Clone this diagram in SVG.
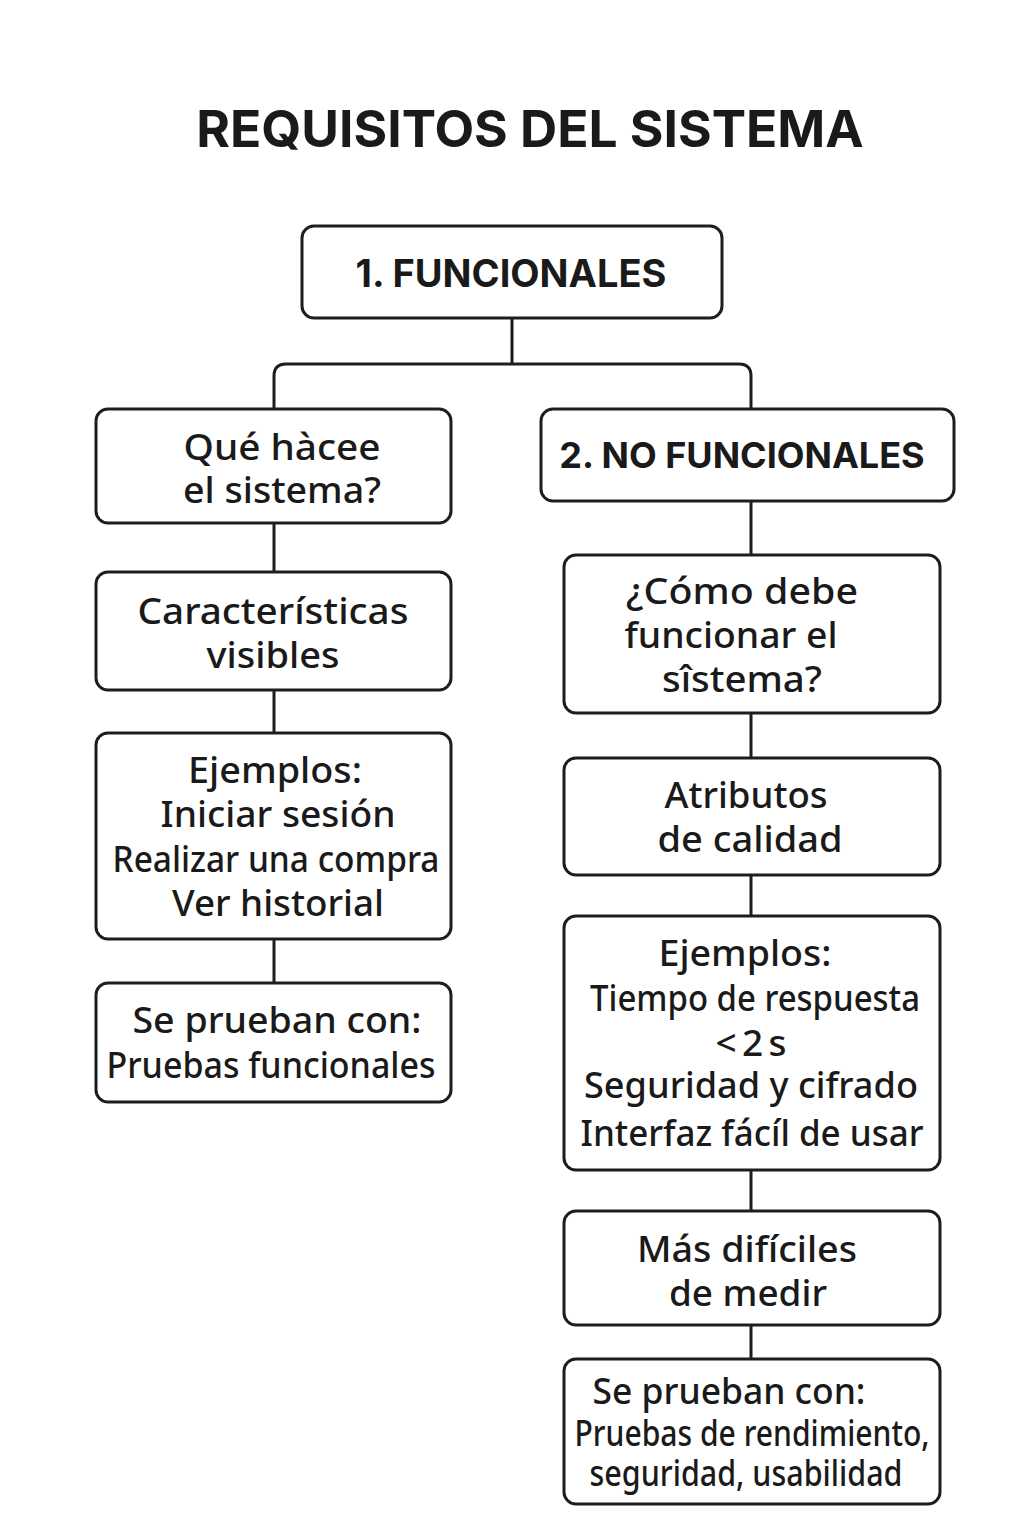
<svg xmlns="http://www.w3.org/2000/svg" width="1024" height="1536" viewBox="0 0 1024 1536">
<style>
.box{fill:#fff;stroke:#1b1e21;stroke-width:3;}
.t{font-family:"Noto Sans","Open Sans",sans-serif;font-size:37px;font-weight:500;fill:#1a1a1a;text-anchor:middle;}
.b{font-family:Inter,"Liberation Sans",sans-serif;font-weight:700;fill:#1a1a1a;text-anchor:middle;}
.c{fill:none;stroke:#1b1e21;stroke-width:3;}
</style>
<rect width="1024" height="1536" fill="#fff"/>
<text class="b" x="530" y="147" font-size="51.5">REQUISITOS DEL SISTEMA</text>
<g id="connectors">
<path class="c" d="M512 318 V364 M274 408 V376 Q274 364 286 364 H739 Q751 364 751 376 V408"/>
<path class="c" d="M274 523 V572 M274 690 V733 M274 939 V983"/>
<path class="c" d="M751 501 V555 M751 713 V758 M751 875 V916 M751 1170 V1211 M751 1325 V1359"/>
</g>
<g id="n-funcionales"><rect class="box" x="302" y="226" width="420" height="92" rx="12"/><text class="b" x="511" y="287" font-size="38">1. FUNCIONALES</text></g>
<g id="n-que"><rect class="box" x="96" y="409" width="355" height="114" rx="12"/><text class="t" x="282" y="460" textLength="197" lengthAdjust="spacingAndGlyphs">Qué hàcee</text><text class="t" x="282" y="503" textLength="198" lengthAdjust="spacingAndGlyphs">el sistema?</text></g>
<g id="n-caract"><rect class="box" x="96" y="572" width="355" height="118" rx="12"/><text class="t" x="273" y="624" textLength="271" lengthAdjust="spacingAndGlyphs">Características</text><text class="t" x="273" y="668" textLength="133" lengthAdjust="spacingAndGlyphs">visibles</text></g>
<g id="n-ej1"><rect class="box" x="96" y="733" width="355" height="206" rx="12"/><text class="t" x="275" y="783" textLength="174" lengthAdjust="spacingAndGlyphs">Ejemplos:</text><text class="t" x="278" y="827" textLength="235" lengthAdjust="spacingAndGlyphs">Iniciar sesión</text><text class="t" x="276" y="872" font-size="35" textLength="327" lengthAdjust="spacingAndGlyphs">Realizar una compra</text><text class="t" x="278" y="916" textLength="212" lengthAdjust="spacingAndGlyphs">Ver historial</text></g>
<g id="n-prueban1"><rect class="box" x="96" y="983" width="355" height="119" rx="12"/><text class="t" x="277" y="1033" textLength="289" lengthAdjust="spacingAndGlyphs">Se prueban con:</text><text class="t" x="271" y="1078" font-size="35" textLength="329" lengthAdjust="spacingAndGlyphs">Pruebas funcionales</text></g>
<g id="n-nofunc"><rect class="box" x="541" y="409" width="413" height="92" rx="12"/><text class="b" x="742" y="468" font-size="36">2. NO FUNCIONALES</text></g>
<g id="n-como"><rect class="box" x="564" y="555" width="376" height="158" rx="12"/><text class="t" x="742" y="604" textLength="232" lengthAdjust="spacingAndGlyphs">¿Cómo debe</text><text class="t" x="731" y="648" textLength="213" lengthAdjust="spacingAndGlyphs">funcionar el</text><text class="t" x="742" y="692" textLength="160" lengthAdjust="spacingAndGlyphs">sîstema?</text></g>
<g id="n-atrib"><rect class="box" x="564" y="758" width="376" height="117" rx="12"/><text class="t" x="746" y="808" textLength="163" lengthAdjust="spacingAndGlyphs">Atributos</text><text class="t" x="750" y="852" textLength="185" lengthAdjust="spacingAndGlyphs">de calidad</text></g>
<g id="n-ej2"><rect class="box" x="564" y="916" width="376" height="254" rx="12"/><text class="t" x="745" y="966" textLength="173" lengthAdjust="spacingAndGlyphs">Ejemplos:</text><text class="t" x="755" y="1011" font-size="35" textLength="330" lengthAdjust="spacingAndGlyphs">Tiempo de respuesta</text><text class="t" x="751" y="1056" font-size="39" textLength="71" lengthAdjust="spacing">&lt;2s</text><text class="t" x="751" y="1098" font-size="36" textLength="334" lengthAdjust="spacingAndGlyphs">Seguridad y cifrado</text><text class="t" x="752" y="1146" font-size="36" textLength="343" lengthAdjust="spacingAndGlyphs">Interfaz fácíl de usar</text></g>
<g id="n-dificiles"><rect class="box" x="564" y="1211" width="376" height="114" rx="12"/><text class="t" x="747" y="1262" textLength="220" lengthAdjust="spacingAndGlyphs">Más difíciles</text><text class="t" x="748" y="1306" textLength="158" lengthAdjust="spacingAndGlyphs">de medir</text></g>
<g id="n-prueban2"><rect class="box" x="564" y="1359" width="376" height="145" rx="12"/><text class="t" x="729" y="1404" font-size="36" textLength="273" lengthAdjust="spacingAndGlyphs">Se prueban con:</text><text class="t" x="752" y="1446" font-size="30" textLength="355" lengthAdjust="spacingAndGlyphs">Pruebas de rendimiento,</text><text class="t" x="746" y="1486" font-size="30" textLength="313" lengthAdjust="spacingAndGlyphs">seguridad, usabilidad</text></g>
</svg>
